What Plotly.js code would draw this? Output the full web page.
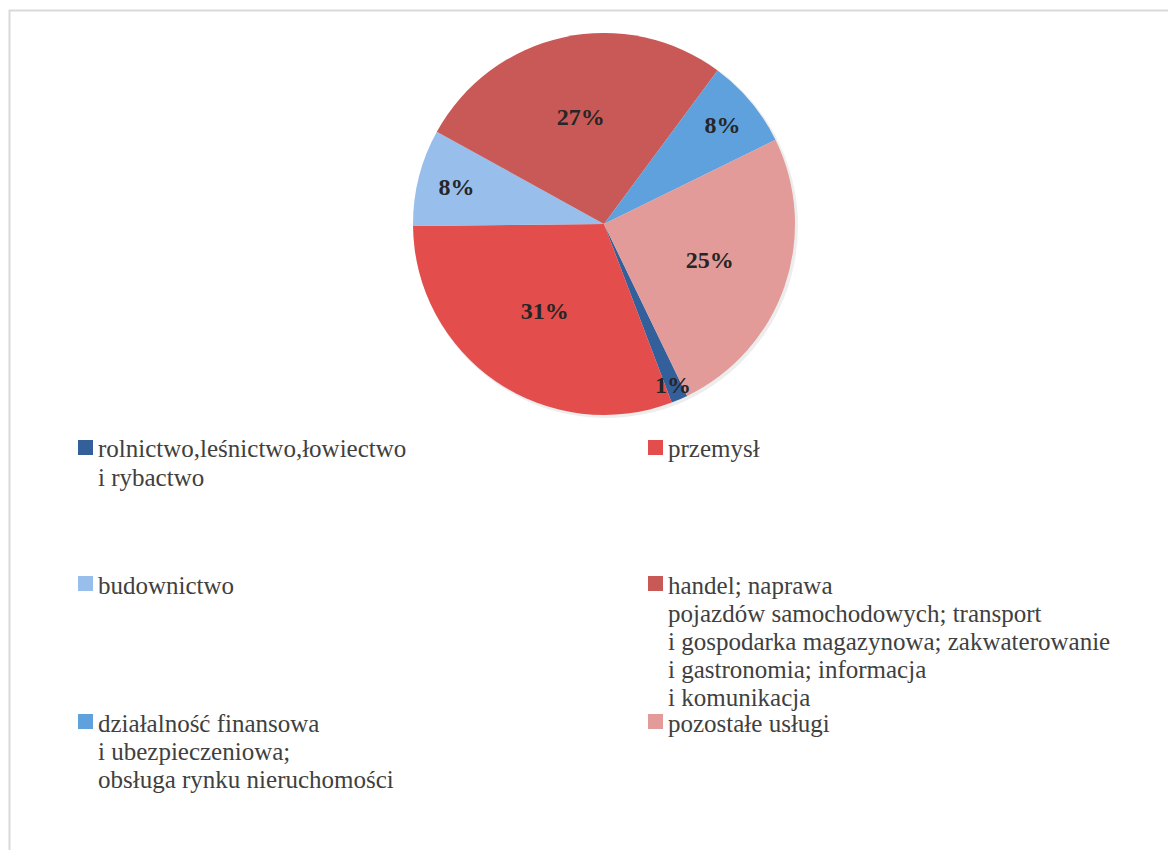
<!DOCTYPE html>
<html>
<head>
<meta charset="utf-8">
<script src="https://cdn.plot.ly/plotly-3.0.1.min.js"></script>
<style>html,body{margin:0;padding:0;background:#fff;}#chart{width:1168px;height:850px;}</style>
</head>
<body>
<div id="chart"></div>
<script>
// ---- data ----
const categories = [
  "rolnictwo,leśnictwo,łowiectwo<br>i rybactwo",
  "przemysł",
  "budownictwo",
  "handel; naprawa<br>pojazdów samochodowych; transport<br>i gospodarka magazynowa; zakwaterowanie<br>i gastronomia; informacja<br>i komunikacja",
  "działalność finansowa<br>i ubezpieczeniowa;<br>obsługa rynku nieruchomości",
  "pozostałe usługi"
];
const shares = [1.4, 30.6, 8.2, 27.1, 7.6, 25.1];
const colors = ["#335F9A", "#E34D4B", "#98BEEC", "#C95956", "#5EA1DD", "#E29B98"];
// slices whose label Plotly would shrink are labelled by an annotation at the rim
const labelPositions = ["none", "inside", "inside", "inside", "inside", "inside"];

// ---- layout constants ----
const W = 1168, H = 850;
const cx = 604, cy = 224, R = 191;
const rotationDeg = 154.2;
const rimLabelFrac = 0.92;
const px = x => x / W;
const py = y => 1 - y / H;
const legendColX = [78, 648];
const legendRowY = [449, 585, 723];   // centre of first text line in each row
const lineStep = 28;
const serif = "Liberation Serif";
const textFont = {family: serif, size: 25, color: "#404040"};
const pctFont = {family: serif, size: 24, color: "#262626", weight: "bold"};

const shapes = [{
  type: "rect", xref: "paper", yref: "paper",
  x0: px(9.5), x1: px(W + 10), y0: py(10.5), y1: py(H + 10),
  line: {color: "#D9D9D9", width: 2}, fillcolor: "rgba(0,0,0,0)", layer: "below"
}, {
  type: "circle", xref: "paper", yref: "paper",
  x0: px(cx - R + 1), x1: px(cx + R + 3), y0: py(cy + R + 3), y1: py(cy - R + 1),
  line: {width: 0}, fillcolor: "rgba(0,0,0,0.07)", layer: "below"
}];
const annotations = [];
categories.forEach((c, i) => {
  const col = i % 2, row = Math.floor(i / 2);
  const x0 = legendColX[col];
  const yc = legendRowY[row];
  shapes.push({
    type: "rect", xref: "paper", yref: "paper",
    x0: px(x0), x1: px(x0 + 15), y0: py(yc - 9), y1: py(yc + 6),
    line: {width: 0}, fillcolor: colors[i]
  });
  c.split("<br>").forEach((ln, k) => {
    annotations.push({
      xref: "paper", yref: "paper", x: px(x0 + 18), y: py(yc + k * lineStep),
      xanchor: "left", yanchor: "middle", showarrow: false,
      text: ln, font: textFont
    });
  });
});

// rim labels for slices not labelled by Plotly itself (position from the data)
const total = shares.reduce((a, b) => a + b, 0);
let cum = 0;
shares.forEach((v, i) => {
  const mid = (rotationDeg + (cum + v / 2) / total * 360) * Math.PI / 180;
  cum += v;
  if (labelPositions[i] !== "none") return;
  annotations.push({
    xref: "paper", yref: "paper",
    x: px(cx + rimLabelFrac * R * Math.sin(mid)),
    y: py(cy - rimLabelFrac * R * Math.cos(mid)),
    xanchor: "center", yanchor: "middle", showarrow: false,
    text: Math.round(v / total * 100) + "%", font: pctFont
  });
});

const trace = {
  type: "pie",
  labels: categories.map(c => c.replace(/<br>/g, " ")),
  values: shares,
  sort: false,
  direction: "clockwise",
  rotation: rotationDeg,
  marker: {colors: colors, line: {width: 0}},
  texttemplate: "%{percent:.0%}",
  textposition: labelPositions,
  insidetextorientation: "horizontal",
  textfont: pctFont,
  hoverinfo: "label+percent",
  domain: {x: [px(cx - R), px(cx + R)], y: [py(cy + R), py(cy - R)]},
  automargin: false,
  showlegend: false
};

const layout = {
  width: W, height: H,
  margin: {l: 0, r: 0, t: 0, b: 0},
  paper_bgcolor: "#FFFFFF",
  showlegend: false,
  shapes: shapes,
  annotations: annotations
};

Plotly.newPlot("chart", [trace], layout, {displayModeBar: false, staticPlot: true});
</script>
</body>
</html>
